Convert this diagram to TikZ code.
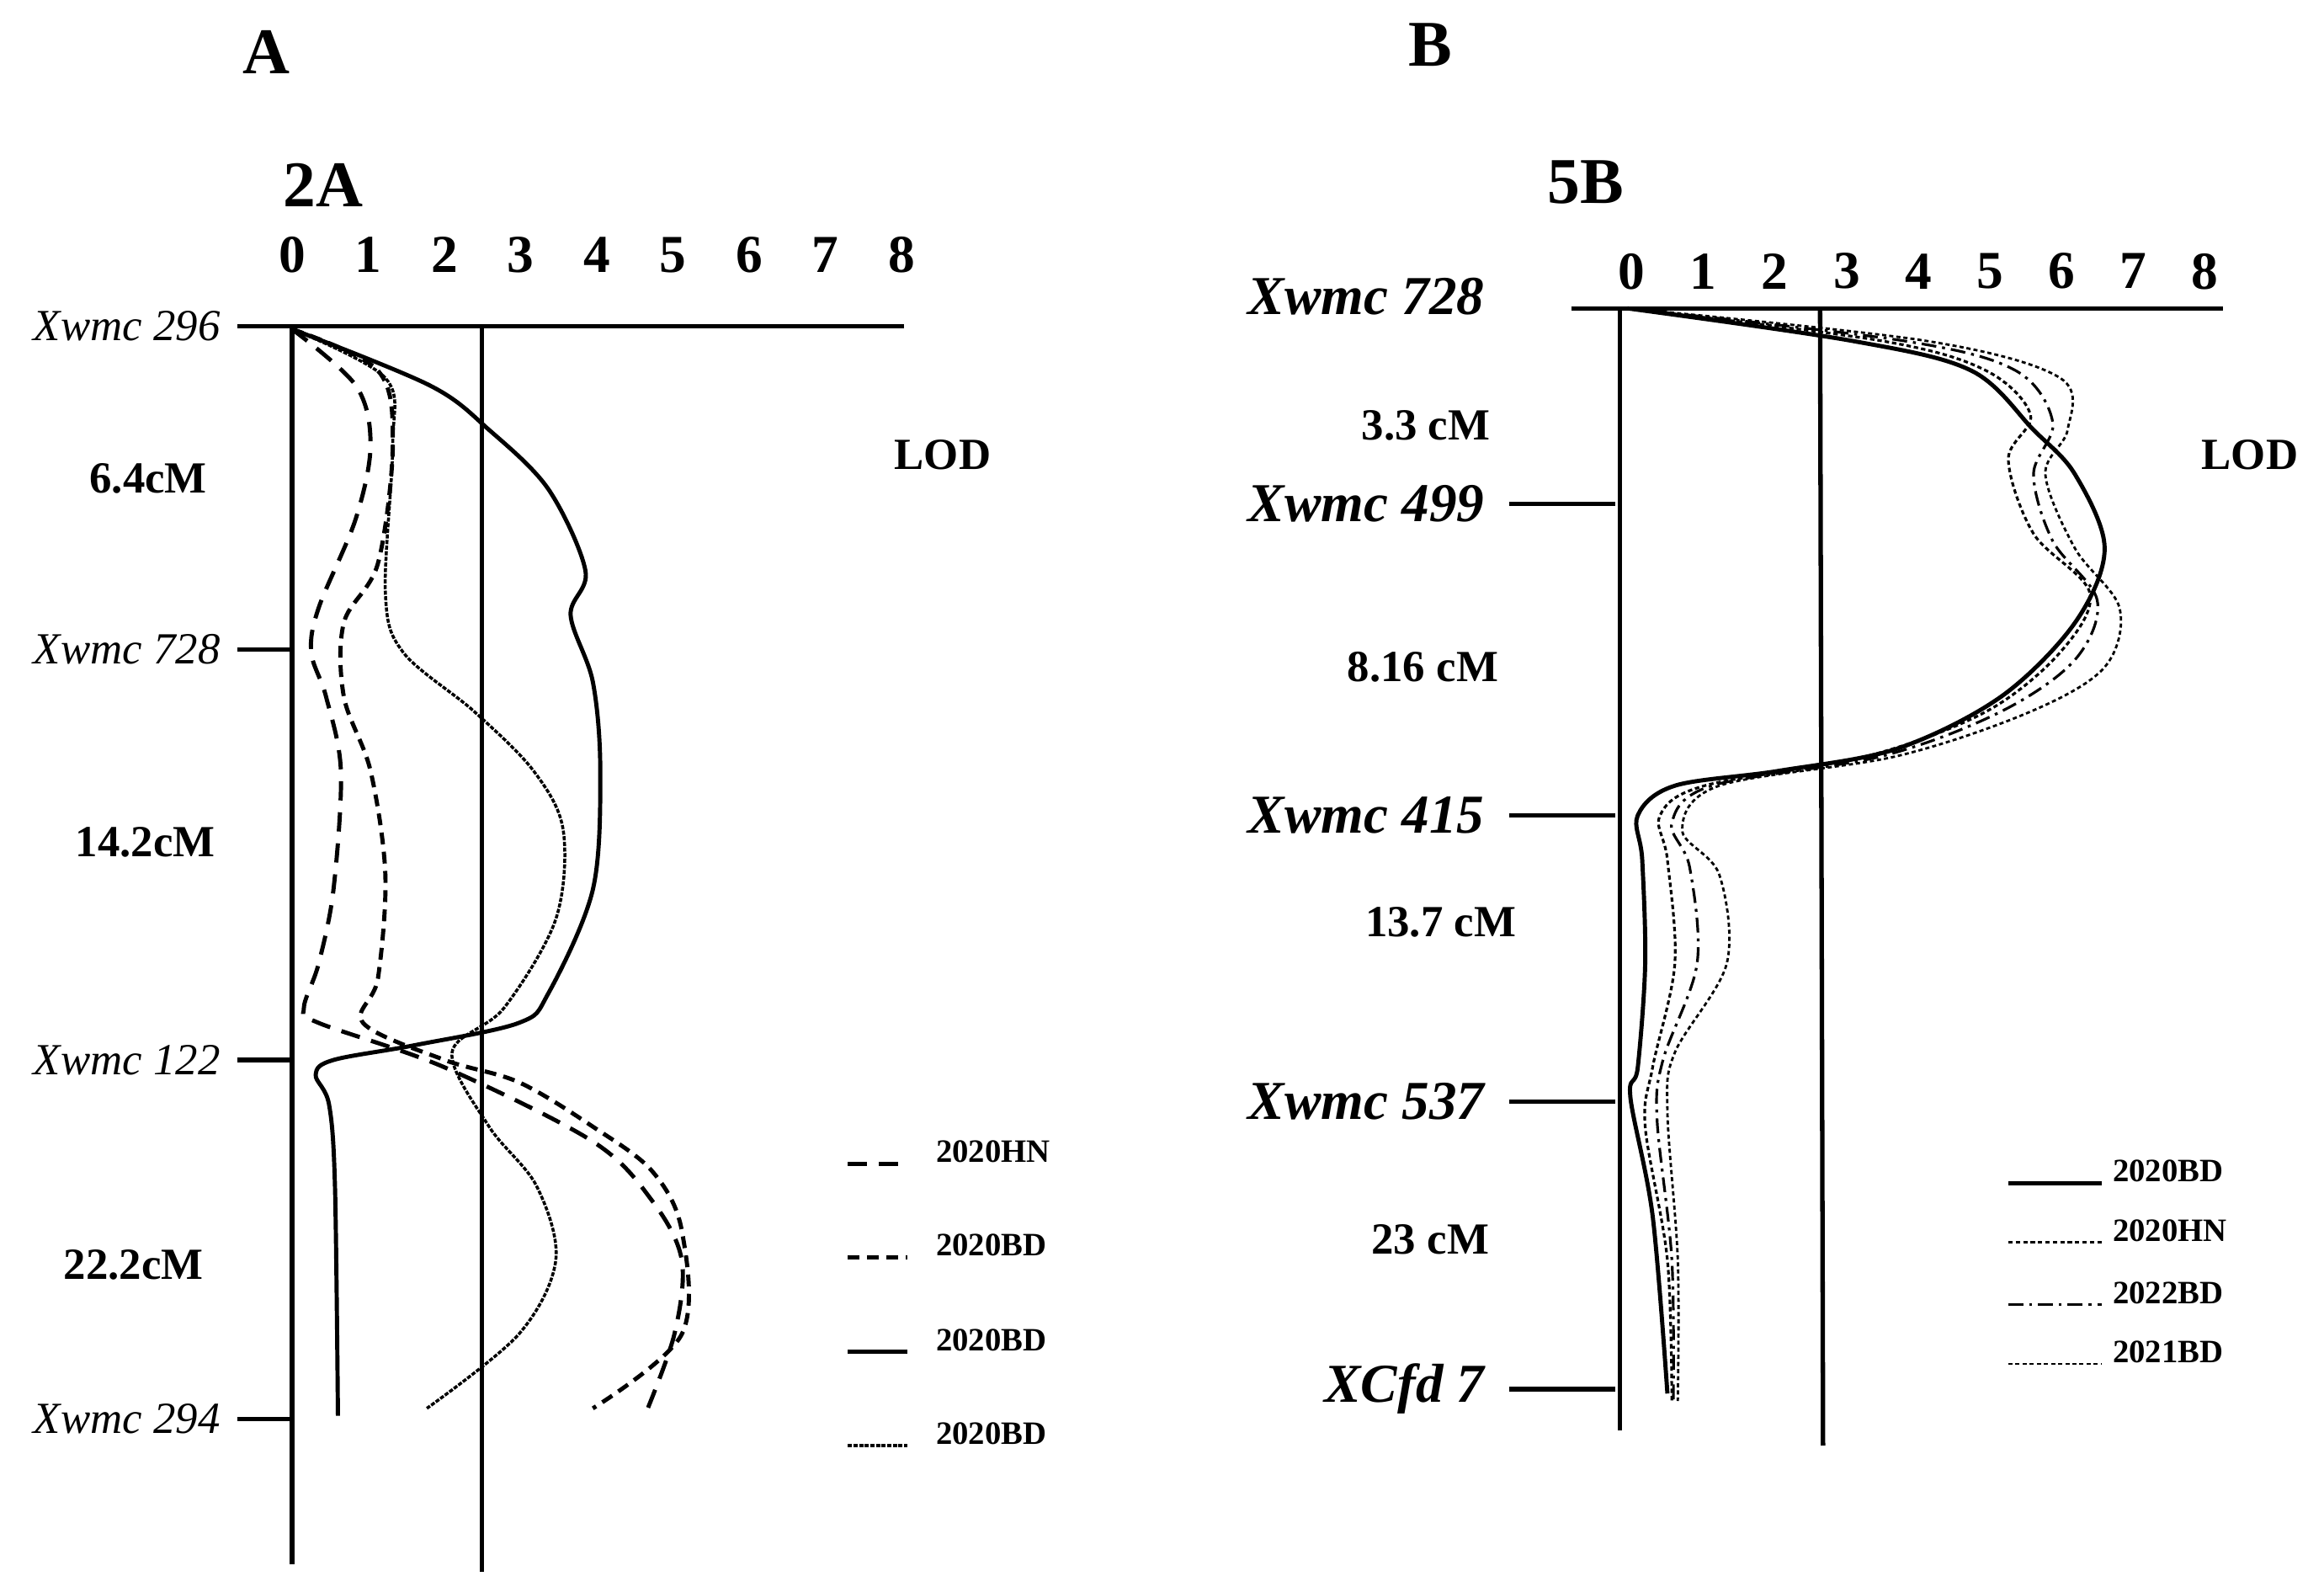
\documentclass[tikz,border=0pt]{standalone}
\usepackage{fontspec}
\setmainfont{Liberation Serif}
\begin{document}
\begin{tikzpicture}[x=1pt,y=-1pt,
 ax/.style={line width=3pt},
 cv/.style={line width=2.8pt},
 sol/.style={},
 dotA/.style={densely dotted,line width=2pt},
 dlong/.style={dash pattern=on 13pt off 8pt},
 dshort/.style={dash pattern=on 8pt off 5pt},
 dB/.style={densely dashed,line width=1.8pt},
 ddB/.style={dash pattern=on 10pt off 4pt on 2pt off 4pt,line width=1.8pt},
 dotB/.style={dotted,line width=1.6pt},
 num/.style={font=\fontsize{36}{40}\selectfont\bfseries},
 mkA/.style={anchor=east,font=\fontsize{30}{34}\selectfont\itshape},
 mkB/.style={anchor=east,font=\fontsize{37}{42}\selectfont\bfseries\itshape},
 iv/.style={font=\fontsize{30}{34}\selectfont\bfseries},
 lg/.style={anchor=west,font=\fontsize{22}{26}\selectfont\bfseries},
 ttl/.style={font=\fontsize{44}{48}\selectfont\bfseries}]
\useasboundingbox (0,0) rectangle (1568,1070);
\node[ttl] (tA) at (180,35) {A};
\node[ttl] (tB) at (965,30) {B};
\node[ttl] (t2A) at (218,125) {2A};
\node[ttl] (t5B) at (1070,123) {5B};
% Panel A axes
\coordinate (a0) at (197,220); \coordinate (a8) at (610,220); \coordinate (ab) at (197,1055);
\draw[ax] (a8) -- (a0) -- (ab);
\coordinate (thA1) at (325,220); \coordinate (thA2) at (325,1060);
\draw[ax] (thA1) -- (thA2);
\foreach \i in {0,...,8}{\node[num] (na\i) at ({197+51.4*\i},172) {\i};}
\node[font=\fontsize{30}{34}\selectfont\bfseries] (lodA) at (636,307) {LOD};
\foreach \n/\y/\t in {m1/220/Xwmc 296,m2/438/Xwmc 728,m3/715/Xwmc 122,m4/957/Xwmc 294}{
 \coordinate (\n a) at (160,\y); \coordinate (\n b) at (197,\y);
 \draw[ax] (\n a) -- (\n b);
 \node[mkA] (\n) at (152,\y) {\t};}
\node[iv] (i1) at (100,323) {6.4cM};
\node[iv] (i2) at (98,568) {14.2cM};
\node[iv] (i3) at (90,853) {22.2cM};
\draw[cv] plot[smooth,tension=0.55] coordinates{(197,222) (290,260) (330,290) (370,330) (395,385) (385,415) (400,460) (405,520) (400,600) (370,670) (350,690) (280,705) (225,715) (213,725) (222,745) (226,800) (228,955)};
\draw[cv,dotA] plot[smooth,tension=0.55] coordinates{(197,222) (260,255) (265,300) (260,400) (272,440) (320,480) (360,520) (380,560) (375,620) (340,680) (305,710) (330,760) (362,800) (375,850) (350,900) (288,950)};
\draw[cv,dlong] plot[smooth,tension=0.55] coordinates{(197,222) (240,260) (250,300) (240,350) (215,410) (210,440) (220,470) (230,520) (225,600) (215,650) (205,680) (215,690) (300,720) (400,770) (440,810) (460,850) (455,900) (435,955)};
\draw[cv,dshort] plot[smooth,tension=0.55] coordinates{(197,222) (255,250) (265,300) (255,380) (232,420) (232,470) (250,520) (260,590) (255,660) (245,690) (300,715) (350,730) (400,760) (440,790) (460,830) (460,900) (400,950)};
% legend A
\foreach \n/\y/\s/\t in {la1/785/dlong/2020HN,la2/848/dshort/2020BD,la3/912/sol/2020BD,la4/975/dotA/2020BD}{
 \coordinate (\n a) at (572,\y); \coordinate (\n b) at (612,\y);
 \draw[cv,\s] (\n a) -- (\n b);
 \node[lg] (\n) at (628,\y-8) {\t};}
% Panel B axes
\coordinate (b0) at (1093,208); \coordinate (bl) at (1060,208); \coordinate (b8) at (1500,208); \coordinate (bb) at (1093,965);
\draw[ax] (bl) -- (b8); \draw[ax] (b0) -- (bb);
\coordinate (thB1) at (1228,208); \coordinate (thB2) at (1230,975);
\draw[ax] (thB1) -- (thB2);
\foreach \i in {0,...,8}{\node[num] (nb\i) at ({1101+48.3*\i},183) {\i};}
\node[font=\fontsize{30}{34}\selectfont\bfseries] (lodB) at (1518,307) {LOD};
\node[mkB] (p1) at (1005,200) {Xwmc 728};
\foreach \n/\y/\t in {p2/340/Xwmc 499,p3/550/Xwmc 415,p4/743/Xwmc 537,p5/937/XCfd 7}{
 \coordinate (\n a) at (1018,\y); \coordinate (\n b) at (1090,\y);
 \draw[ax] (\n a) -- (\n b);
 \node[mkB] (\n) at (1005,\y) {\t};}
\node[iv] (j1) at (962,287) {3.3 cM};
\node[iv] (j2) at (960,450) {8.16 cM};
\node[iv] (j3) at (972,622) {13.7 cM};
\node[iv] (j4) at (965,836) {23 cM};
\draw[cv] plot[smooth,tension=0.55] coordinates{(1098,208) (1250,230) (1330,250) (1372,290) (1400,320) (1420,370) (1400,420) (1350,470) (1280,505) (1200,520) (1130,530) (1105,550) (1108,580) (1110,650) (1105,720) (1100,740) (1115,820) (1125,940)};
\draw[cv,dB] plot[smooth,tension=0.55] coordinates{(1098,208) (1270,230) (1340,250) (1370,280) (1355,310) (1372,360) (1410,400) (1390,440) (1340,480) (1260,510) (1150,530) (1120,550) (1125,580) (1130,650) (1115,720) (1110,760) (1125,850) (1128,945)};
\draw[cv,ddB] plot[smooth,tension=0.55] coordinates{(1098,208) (1285,230) (1360,250) (1385,285) (1372,320) (1385,365) (1415,405) (1400,445) (1350,480) (1270,510) (1155,530) (1128,555) (1140,585) (1145,650) (1122,715) (1118,755) (1128,850) (1129,945)};
\draw[cv,dotB] plot[smooth,tension=0.55] coordinates{(1098,208) (1300,230) (1390,255) (1395,290) (1380,320) (1400,370) (1430,410) (1420,450) (1370,480) (1280,510) (1160,530) (1135,560) (1160,590) (1165,650) (1130,710) (1125,750) (1132,850) (1132,945)};
% legend B
\foreach \n/\y/\s/\t in {lb1/798/sol/2020BD,lb2/838/dB/2020HN,lb3/880/ddB/2022BD,lb4/920/dotB/2021BD}{
 \coordinate (\n a) at (1355,\y); \coordinate (\n b) at (1418,\y);
 \draw[cv,\s] (\n a) -- (\n b);
 \node[lg] (\n) at (1422,\y-8) {\t};}
\end{tikzpicture}
\end{document}
